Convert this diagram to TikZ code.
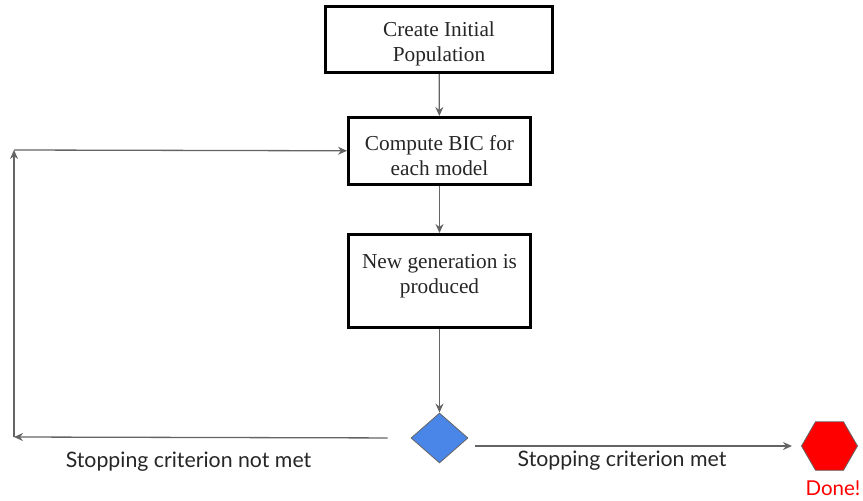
\documentclass[tikz,border=0pt]{standalone}
\usepackage{fontspec}
\setmainfont{Liberation Serif}
\newfontfamily\labelfont{Lato}
\usetikzlibrary{shapes.geometric,arrows.meta}
\definecolor{linegray}{RGB}{100,100,100}
\definecolor{decblue}{RGB}{74,134,232}
\newcommand{\topstrut}{\rule{0pt}{24pt}}
\tikzset{
  stepbox/.style={draw, line width=3pt, align=center, inner sep=0pt, text=black!85,
    font=\fontsize{21.3}{25}\selectfont},
  arr/.style={->, draw=linegray, line width=1.3pt},
  lbl/.style={font=\labelfont\fontsize{21.3}{25}\selectfont, text=black!85}
}
\begin{document}
\begin{tikzpicture}[>={Stealth[length=9pt,width=8pt]}, x=1pt, y=-1pt]
\useasboundingbox (0,0) rectangle (863,501);
\node[stepbox, minimum width=227pt, minimum height=66pt] (init) at (439,39.5) {\topstrut Create Initial\\Population};
\node[stepbox, minimum width=182pt, minimum height=67pt] (bic) at (439.5,151) {\topstrut Compute BIC for\\each model};
\node[stepbox, minimum width=182pt, minimum height=93pt] (newgen) at (439.5,281) {\topstrut New generation is\\produced\\\mbox{}};
\node[diamond, draw=linegray, fill=decblue, line width=.8pt, inner sep=0pt, minimum width=57pt, minimum height=50pt] (check) at (439.5,438) {};
\node[regular polygon, regular polygon sides=6, draw=linegray, fill=red, line width=.8pt, inner sep=0pt, minimum size=56pt] (stop) at (829.5,446) {};
\node[lbl, text=red, font=\labelfont\fontsize{20.5}{24}\selectfont] (done) at (833,488) {Done!};
\coordinate (bl) at (14,437);
\coordinate (tl) at (14,150);

\draw[arr](init)--(bic);
\draw[arr](bic)--(newgen);
\draw[arr](newgen)--(check);
\draw[arr, shorten <=23pt](check.west)--(bl);
\draw[arr](bl)--(tl);
\draw[arr](tl)--(bic);
\draw[arr, shorten <=7pt, shorten >=9pt](check.east |- stop)--(stop);

\node[lbl] (notmet) at (188.5,462) {Stopping criterion not met};
\node[lbl] (met) at (622,461) {Stopping criterion met};
\end{tikzpicture}
\end{document}
